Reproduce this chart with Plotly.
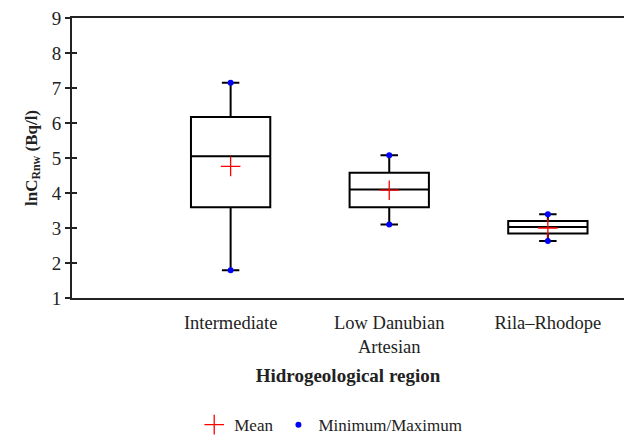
import plotly.graph_objects as go

# Box statistics of ln C_Rnw per hydrogeological region
regions = ["Intermediate", "Low Danubian<br>Artesian", "Rila–Rhodope"]
positions = [1, 2, 3]
minimum = [1.79, 3.10, 2.63]
q1 = [3.59, 3.59, 2.84]
median = [5.05, 4.10, 3.03]
q3 = [6.17, 4.58, 3.20]
maximum = [7.15, 5.08, 3.39]
mean = [4.76, 4.08, 3.00]

FONT = "'Liberation Serif', 'Times New Roman', serif"

fig = go.Figure()

fig.add_trace(go.Box(
    x=positions, q1=q1, median=median, q3=q3,
    lowerfence=minimum, upperfence=maximum,
    width=0.5, whiskerwidth=0.22,
    fillcolor="white", line=dict(color="black", width=2),
    boxpoints=False, showlegend=False, hoverinfo="skip",
))

fig.add_trace(go.Scatter(
    x=positions, y=mean, mode="markers", name="Mean",
    marker=dict(symbol="cross-thin", size=14, color="red",
                line=dict(color="red", width=1.3)),
))

fig.add_trace(go.Scatter(
    x=positions + positions, y=minimum + maximum, mode="markers",
    name="Minimum/Maximum",
    marker=dict(symbol="circle", size=6, color="blue"),
))

# invisible trace on an overlaid axis to draw the inner half of the y ticks
fig.add_trace(go.Scatter(x=[None], y=[None], yaxis="y2", showlegend=False))

fig.update_layout(
    width=624, height=436,
    margin=dict(l=72, r=0, t=18, b=138, autoexpand=False),
    paper_bgcolor="white", plot_bgcolor="white",
    font=dict(family=FONT, size=18, color="#222"),
    xaxis=dict(
        range=[0, 3.48], tickvals=positions, ticktext=regions,
        showline=True, linecolor="#222", linewidth=2, mirror=True,
        showgrid=False, zeroline=False, ticks="", automargin=False,
        ticklabelstandoff=7,
        tickfont=dict(size=18.5),
        title=dict(text="<b>Hidrogeological region</b>", standoff=12,
                   font=dict(size=19)),
    ),
    yaxis=dict(
        range=[1, 9], dtick=1, tick0=1, automargin=False,
        showline=True, linecolor="#222", linewidth=2, mirror=False,
        showgrid=False, zeroline=False,
        ticks="outside", ticklen=5, tickwidth=2, tickcolor="#222",
        tickfont=dict(size=19),
        title=dict(text="<b>lnC<sub>Rnw</sub> (Bq/l)</b>", standoff=10,
                   font=dict(size=17)),
    ),
    yaxis2=dict(
        overlaying="y", range=[1, 9], dtick=1, tick0=1, automargin=False,
        showticklabels=False, showgrid=False, zeroline=False,
        ticks="inside", ticklen=5, tickwidth=2, tickcolor="#222",
    ),
    legend=dict(
        orientation="h", xref="container", yref="container",
        x=0.53, xanchor="center", y=0.025, yanchor="middle",
        font=dict(size=17), itemwidth=30, tracegroupgap=0,
    ),
)

fig.write_html("out.html")
